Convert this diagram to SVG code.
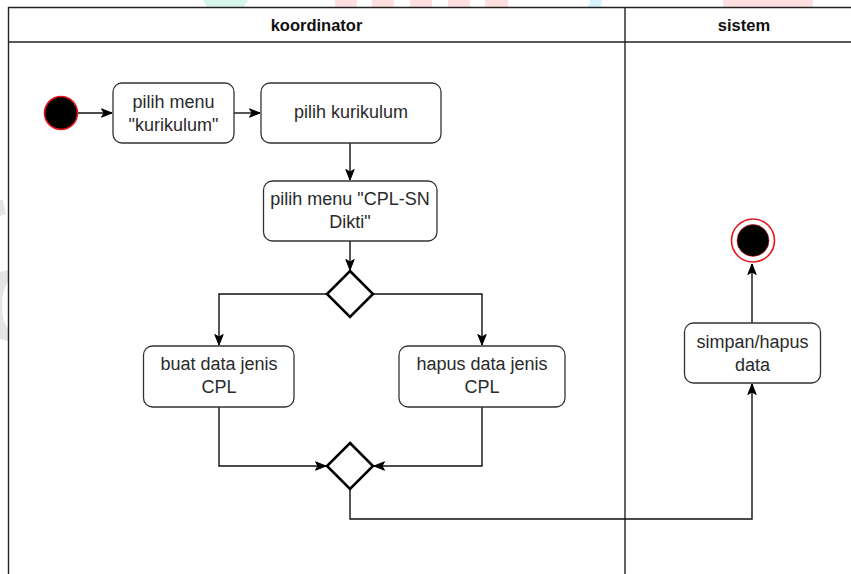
<svg xmlns="http://www.w3.org/2000/svg" width="851" height="574" viewBox="0 0 851 574">
  <style>
    .lane { fill: none; stroke: #222; stroke-width: 1.4; }
    .head { font-family: "Liberation Sans", Arial, sans-serif; font-size: 16.5px; font-weight: bold; fill: #111; text-anchor: middle; }
    .box { fill: #fff; stroke: #333; stroke-width: 1.3; }
    .lbl { font-family: "Liberation Sans", Arial, sans-serif; font-size: 18px; fill: #2a2a2a; text-anchor: middle; }
    .gate { fill: #fff; stroke: #000; stroke-width: 2.6; stroke-linejoin: miter; }
    .flow { fill: none; stroke: #111; stroke-width: 1.4; }
    .wm { stroke: none; }
  </style>
  <defs>
    <marker id="arrow" markerUnits="userSpaceOnUse" markerWidth="12" markerHeight="10" viewBox="0 0 12 10" refX="11" refY="5" orient="auto">
      <path d="M0.5,0.8 L11,5 L0.5,9.2 L3,5 Z" fill="#000" stroke="#000" stroke-width="1"/>
    </marker>
  </defs>

  <rect width="851" height="574" fill="#fff"/>

  <!-- faint background marks -->
  <g id="background-marks" opacity="0.9">
    <polygon class="wm" points="203,0 248,0 244,7 207,7" fill="#d2f6ea"/>
    <rect class="wm" x="335" y="0" width="22" height="7" fill="#ffdcdc"/>
    <rect class="wm" x="372" y="0" width="22" height="7" fill="#ffdcdc"/>
    <rect class="wm" x="410" y="0" width="22" height="7" fill="#ffdcdc"/>
    <rect class="wm" x="448" y="0" width="22" height="7" fill="#ffdcdc"/>
    <rect class="wm" x="485" y="0" width="23" height="7" fill="#ffdcdc"/>
    <polygon class="wm" points="590,0 602,0 601,7 588,7" fill="#d4f1fb"/>
    <rect class="wm" x="723" y="0" width="90" height="7" fill="#ffdcdc"/>
    <polygon class="wm" points="0,200 3,200 6,214 0,216" fill="#e2e2e2"/>
    <path class="wm" d="M0,272 L8,270 L8,282 Q2,290 2,305 Q2,322 8,328 L8,341 Q-2,338 0,340 Z" fill="#e2e2e2"/>
  </g>

  <!-- swimlanes -->
  <g id="swimlanes">
    <path class="lane" d="M8.5,574 V7.5 H851"/>
    <line class="lane" x1="8.5" y1="42" x2="851" y2="42" stroke-width="1.8"/>
    <line class="lane" x1="625" y1="7.5" x2="625" y2="574"/>
    <text class="head" x="316.5" y="31">koordinator</text>
    <text class="head" x="744" y="31">sistem</text>
  </g>

  <!-- connectors -->
  <g id="connectors">
    <path class="flow" d="M78,113 H112" marker-end="url(#arrow)"/>
    <path class="flow" d="M234,113 H260" marker-end="url(#arrow)"/>
    <path class="flow" d="M350,143 V180" marker-end="url(#arrow)"/>
    <path class="flow" d="M350,241 V270" marker-end="url(#arrow)"/>
    <path class="flow" d="M327,294 H219 V345" marker-end="url(#arrow)"/>
    <path class="flow" d="M373,294 H482 V345" marker-end="url(#arrow)"/>
    <path class="flow" d="M219,407 V466 H326" marker-end="url(#arrow)"/>
    <path class="flow" d="M482,407 V466 H374" marker-end="url(#arrow)"/>
    <path class="flow" d="M350,489 V519 H752 V384" marker-end="url(#arrow)"/>
    <path class="flow" d="M752,323 V264" marker-end="url(#arrow)"/>
  </g>

  <!-- nodes -->
  <g id="start">
    <circle cx="61" cy="113" r="16.5" fill="#000" stroke="#e8141c" stroke-width="1.6"/>
  </g>

  <g id="pilih-menu-kurikulum">
    <rect class="box" x="113" y="83" width="121" height="60" rx="9"/>
    <text class="lbl" x="173.5" y="108">pilih menu</text>
    <text class="lbl" x="173.5" y="131">"kurikulum"</text>
  </g>

  <g id="pilih-kurikulum">
    <rect class="box" x="261" y="83" width="180" height="60" rx="9"/>
    <text class="lbl" x="351" y="118">pilih kurikulum</text>
  </g>

  <g id="pilih-menu-cpl">
    <rect class="box" x="263.5" y="181" width="173.5" height="60" rx="9"/>
    <text class="lbl" x="350" y="205">pilih menu "CPL-SN</text>
    <text class="lbl" x="350" y="228">Dikti"</text>
  </g>

  <g id="decision">
    <polygon class="gate" points="350,271 373,294 350,317 327,294"/>
  </g>

  <g id="buat-data">
    <rect class="box" x="143.5" y="346" width="150.5" height="61" rx="9"/>
    <text class="lbl" x="219" y="370">buat data jenis</text>
    <text class="lbl" x="219" y="393">CPL</text>
  </g>

  <g id="hapus-data">
    <rect class="box" x="399" y="346" width="166" height="61" rx="9"/>
    <text class="lbl" x="482" y="370">hapus data jenis</text>
    <text class="lbl" x="482" y="393">CPL</text>
  </g>

  <g id="merge">
    <polygon class="gate" points="350,443 373,466 350,489 327,466"/>
  </g>

  <g id="simpan-hapus">
    <rect class="box" x="684.5" y="323" width="136" height="60" rx="9"/>
    <text class="lbl" x="752.5" y="348">simpan/hapus</text>
    <text class="lbl" x="752.5" y="371">data</text>
  </g>

  <g id="end">
    <circle cx="753" cy="240.5" r="21.5" fill="#fff" stroke="#e8141c" stroke-width="1.6"/>
    <circle cx="753" cy="240.5" r="16" fill="#000" stroke="#e8141c" stroke-width="0.6"/>
  </g>
</svg>
